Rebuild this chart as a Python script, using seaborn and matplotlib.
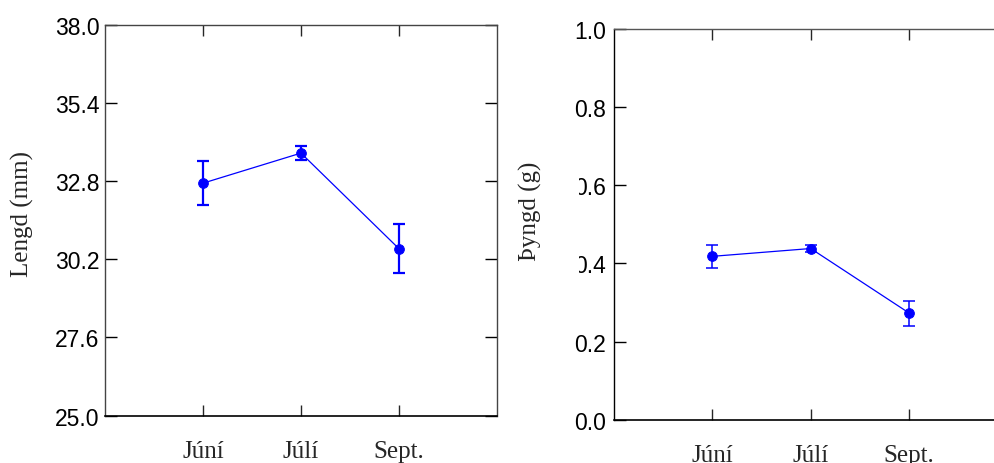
import numpy as np
import pandas as pd
import matplotlib
matplotlib.use("Agg")
import matplotlib.pyplot as plt
import matplotlib.patches as mpatches
import seaborn as sns

# data
months = ["Júní", "Júlí", "Sept."]
length_mean = [32.73, 33.73, 30.55]
length_err = [0.73, 0.24, 0.81]
weight_mean = [0.418, 0.438, 0.273]
weight_err = [0.029, 0.010, 0.032]
length_ticks = [25.0, 27.6, 30.2, 32.8, 35.4, 38.0]
weight_ticks = [0.0, 0.2, 0.4, 0.6, 0.8, 1.0]

BLUE = "#0000ff"
SERIF = "Liberation Serif"
SANS = "Liberation Sans"

sns.set_style("white")
plt.rcParams["font.family"] = [SANS, "DejaVu Sans"]


def draw_panel(ax, means, errs, ticks, err_lw, spine_col, ypad):
    df = pd.DataFrame({"month": months, "value": means})
    sns.pointplot(data=df, x="month", y="value", color=BLUE, markers="o",
                  errorbar=None, markersize=7, linewidth=0.9, ax=ax)
    ax.errorbar(np.arange(len(months)), means, yerr=errs, fmt="none",
                ecolor=BLUE, elinewidth=err_lw, capsize=4, capthick=err_lw,
                zorder=4)
    ax.set_xlim(-1, 3)
    ax.set_ylim(ticks[0], ticks[-1])
    ax.set_yticks(ticks)
    ax.set_yticklabels([f"{t:.1f}" for t in ticks])
    ax.set_xlabel("")
    ax.set_ylabel("")
    ax.tick_params(axis="y", direction="in", length=8.5, width=1,
                   left=True, right=True, labelsize=16.5, pad=ypad,
                   colors="black")
    ax.tick_params(axis="x", direction="in", length=8, width=1,
                   bottom=True, top=True, pad=17.5)
    for lab in ax.get_xticklabels():
        lab.set_fontfamily(SERIF)
        lab.set_fontsize(18)
    for side in ["left", "top", "right"]:
        ax.spines[side].set_color(spine_col)
        ax.spines[side].set_linewidth(1)
    ax.spines["bottom"].set_color("black")
    ax.spines["bottom"].set_linewidth(1.2)
    ax.grid(False)


fig = plt.figure(figsize=(9.95, 4.64), dpi=100)
ax1 = fig.add_axes([0.1055, 0.102, 0.394, 0.8427])
ax2 = fig.add_axes([0.6168, 0.0927, 0.396, 0.8437])

draw_panel(ax1, length_mean, length_err, length_ticks, 1.6, "#444444", 4)
draw_panel(ax2, weight_mean, weight_err, weight_ticks, 1.1, "#555555", 5.5)
ax2.spines["left"].set_color("black")

fig.text(22 / 995, 1 - 214 / 464, "Lengd (mm)", rotation=90, ha="center",
         va="center", fontfamily=SERIF, fontsize=18)

# white strip behind the second label (it hides part of the tick labels)
fig.add_artist(mpatches.Rectangle((508 / 995, 1 - 285 / 464), 71 / 995,
                                  140 / 464, transform=fig.transFigure,
                                  facecolor="white", edgecolor="none",
                                  zorder=5))
fig.text(530 / 995, 1 - 211 / 464, "Þyngd (g)", rotation=90, ha="center",
         va="center", fontfamily=SERIF, fontsize=18, zorder=6)

fig.savefig("out.png", dpi=100)
